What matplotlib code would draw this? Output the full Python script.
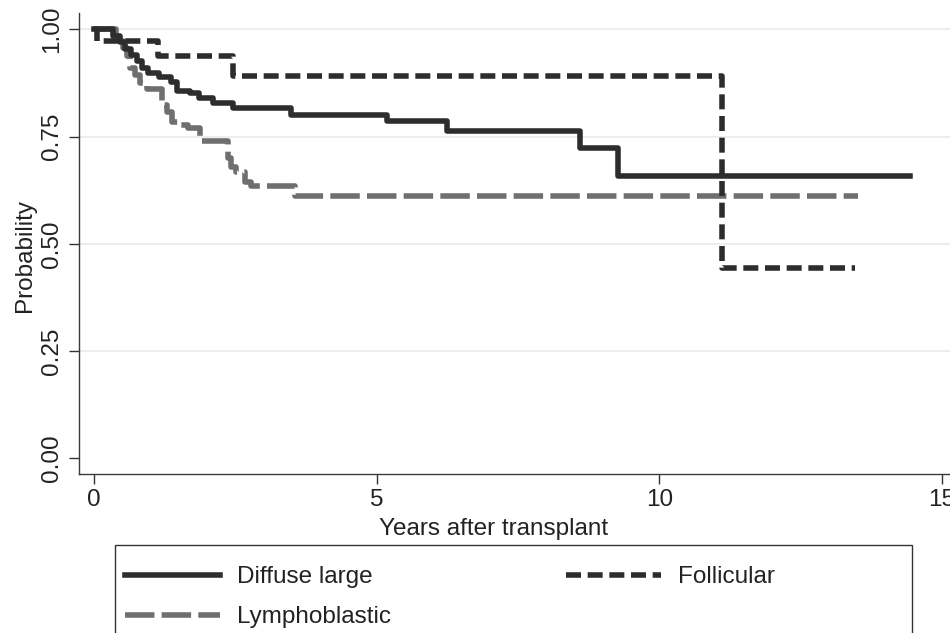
import matplotlib
matplotlib.use("Agg")
import matplotlib.pyplot as plt
from matplotlib.patches import Rectangle

plt.rcParams["font.family"] = ["Liberation Sans", "DejaVu Sans"]

# Kaplan-Meier style step data (time in years, survival after the drop)
diffuse_t = [0, 0.33, 0.45, 0.55, 0.65, 0.75, 0.85, 0.95, 1.15, 1.35, 1.47,
             1.70, 1.85, 2.10, 2.45, 3.48, 5.18, 6.25, 8.60, 9.27, 14.44]
diffuse_s = [1.0, 0.985, 0.970, 0.955, 0.940, 0.925, 0.910, 0.897, 0.888,
             0.876, 0.857, 0.851, 0.840, 0.828, 0.816, 0.801, 0.786, 0.764,
             0.724, 0.657, 0.657]

follicular_t = [0, 0.05, 1.13, 2.45, 11.11, 13.46]
follicular_s = [1.0, 0.972, 0.937, 0.890, 0.444, 0.444]

lympho_t = [0, 0.38, 0.45, 0.51, 0.57, 0.63, 0.72, 0.81, 0.93, 1.20, 1.28,
            1.37, 1.50, 1.65, 1.87, 2.36, 2.42, 2.50, 2.66, 2.78, 3.55, 13.52]
lympho_s = [1.0, 0.987, 0.972, 0.956, 0.937, 0.909, 0.894, 0.875, 0.860,
            0.824, 0.808, 0.785, 0.777, 0.770, 0.740, 0.700, 0.680, 0.668,
            0.645, 0.634, 0.612, 0.612]

x_ticks = [0, 5, 10, 15]
y_ticks = [0.00, 0.25, 0.50, 0.75, 1.00]

dark = "#2d2d2d"
grey = "#6f6f6f"
fs = 17.5

fig = plt.figure(figsize=(9.5, 6.33), dpi=100)
ax = fig.add_axes([79 / 950, 1 - 474 / 633, 1 - 79 / 950, (474 - 13) / 633])

ax.step(diffuse_t, diffuse_s, where="post", color=dark, lw=4,
        solid_joinstyle="round", label="Diffuse large", zorder=3)
ax.step(follicular_t, follicular_s, where="post", color=dark, lw=4,
        dashes=(2.7, 1.2), dash_joinstyle="round", label="Follicular", zorder=3)
ax.step(lympho_t, lympho_s, where="post", color=grey, lw=4,
        dashes=(5.3, 1.3), dash_joinstyle="round", label="Lymphoblastic", zorder=2)

ax.set_xlim(-0.271, 15.148)
ax.set_ylim(-0.0366, 1.038)

ax.set_xticks(x_ticks)
ax.set_yticks(y_ticks)
ax.set_yticklabels([f"{v:.2f}" for v in y_ticks])
ax.tick_params(axis="both", direction="out", length=7.5, width=1,
               color="#333333", labelsize=fs, labelcolor="#222222")
ax.tick_params(axis="x", pad=3.5)
ax.tick_params(axis="y", pad=4, labelrotation=90)
for lab in ax.get_yticklabels():
    lab.set_va("center")

ax.yaxis.grid(True, color="#ececec", lw=1.3)
ax.yaxis.get_gridlines()[0].set_visible(False)
ax.set_axisbelow(True)

for side in ["top", "right"]:
    ax.spines[side].set_visible(False)
for side in ["left", "bottom"]:
    ax.spines[side].set_color("#3a3a3a")
    ax.spines[side].set_linewidth(1)

ax.set_xlabel("Years after transplant", fontsize=fs, color="#222222")
ax.xaxis.set_label_coords(0.476, -0.095)
ax.set_ylabel("Probability", fontsize=fs, color="#222222")
ax.yaxis.set_label_coords(-0.049, 0.474)

# legend box (cut off at the bottom like the original)
fig.patches.append(Rectangle((115 / 950, -0.1), 797 / 950, (633 - 545) / 633 + 0.1,
                             transform=fig.transFigure, fill=False,
                             ec="#333333", lw=1))
handles, labels = ax.get_legend_handles_labels()
order = [0, 2, 1]
leg = fig.legend([handles[i] for i in order], [labels[i] for i in order],
                 loc="upper left", bbox_to_anchor=(125 / 950, 1 - 566 / 633),
                 ncol=2, frameon=False, fontsize=fs, borderpad=0,
                 borderaxespad=0, handlelength=3.9, handletextpad=0.7,
                 labelspacing=0.75, columnspacing=7.2)
for t in leg.get_texts():
    t.set_color("#222222")

fig.savefig("out.png", dpi=100)
